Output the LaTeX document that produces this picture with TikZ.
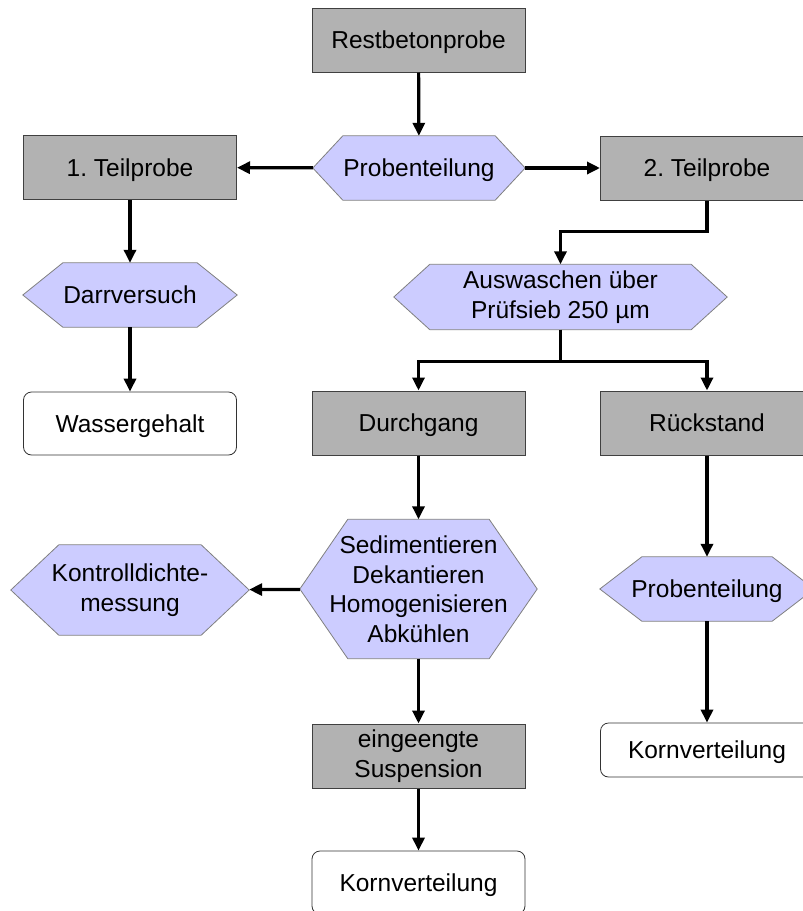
\documentclass[tikz,border=0pt]{standalone}
\usepackage{fontspec}
\setmainfont{Liberation Sans}
\usetikzlibrary{arrows.meta,backgrounds}

\definecolor{probengrau}{RGB}{178,178,178}
\definecolor{schrittblau}{RGB}{204,204,255}

\tikzset{
  probe/.style={rectangle, draw=black!75, fill=probengrau, line width=1pt,
    minimum width=213pt, minimum height=64pt, align=center, inner sep=0pt, text depth=0pt},
  ergebnis/.style={rectangle, rounded corners=8pt, draw=black!80, fill=white,
    line width=0.8pt, minimum width=213pt, minimum height=63pt, align=center, inner sep=0pt,
    text depth=0pt},
  schritt/.style={rectangle, minimum height=64pt, align=center, inner sep=0pt, text depth=0pt},
  mehrzeilig/.style={text depth=},
  sechsrand/.style={draw=black!50, fill=schrittblau, line width=0.8pt},
  pfeil/.style={line width=3.2pt, -{Triangle[length=13pt,width=12pt]}},
  linie/.style={line width=3.2pt},
}

% Sechseck hinter einen Knoten legen: #1 Knoten, #2 Breite der Spitze
\newcommand{\sechseck}[2]{%
  \begin{pgfonlayer}{background}
    \draw[sechsrand] (#1.west) -- ([xshift=#2]#1.north west) -- ([xshift=-#2]#1.north east)
      -- (#1.east) -- ([xshift=-#2]#1.south east) -- ([xshift=#2]#1.south west) -- cycle;
  \end{pgfonlayer}}

\begin{document}
\begin{tikzpicture}[x=1pt, y=-1pt, every node/.style={font=\fontsize{24.5}{29.5}\selectfont}]
    \path[use as bounding box, clip] (0,0) rectangle (803,911);

    % Probe und Teilung
    \node[probe] (rest) at (418.5,40) {Restbetonprobe};
    \node[schritt, minimum width=212pt] (teilung) at (419,168) {Probenteilung};
    \sechseck{teilung}{30pt}
    \node[probe] (teil1) at (130,167.5) {1.\ Teilprobe};
    \node[probe] (teil2) at (707,168) {2.\ Teilprobe};

    % linker Zweig
    \node[schritt, minimum width=214pt] (darr) at (130,295) {Darrversuch};
    \sechseck{darr}{40pt}
    \node[ergebnis] (wasser) at (130,423.5) {Wassergehalt};

    % rechter Zweig
    \node[schritt, mehrzeilig, minimum width=333pt, minimum height=65pt] (ausw) at (560.5,297)
        {Auswaschen über\\Prüfsieb 250 µm};
    \sechseck{ausw}{36pt}
    \node[probe] (durch) at (418.5,423) {Durchgang};
    \node[probe] (rueck) at (707,423) {Rückstand};

    \node[schritt, mehrzeilig, minimum width=237pt, minimum height=139pt] (sed) at (418.5,589)
        {Sedimentieren\\Dekantieren\\Homogenisieren\\Abkühlen};
    \sechseck{sed}{48pt}
    \node[schritt, mehrzeilig, minimum width=238pt, minimum height=90pt] (kontr) at (130,590)
        {Kontrolldichte-\\messung};
    \sechseck{kontr}{48pt}
    \node[probe, mehrzeilig] (eing) at (418.5,756) {eingeengte\\Suspension};
    \node[ergebnis] (korn2) at (418.5,882.5) {Kornverteilung};

    \node[schritt, minimum width=214pt] (teilung2) at (707,589) {Probenteilung};
    \sechseck{teilung2}{42pt}
    \node[ergebnis, minimum height=54pt] (korn1) at (707,750) {Kornverteilung};

    % Verbindungen
    \draw[pfeil] (rest) -- (teilung);
    \draw[pfeil] (teilung) -- (teil1);
    \draw[pfeil] (teilung) -- (teil2);
    \draw[pfeil] (teil1) -- (darr);
    \draw[pfeil] (darr) -- (wasser);
    \draw[pfeil] (teil2.south) -- ++(0,31) -| (ausw.north);
    \coordinate (gabel) at ([yshift=-32pt]ausw.south);
    \draw[linie] (ausw.south) -- (gabel);
    \draw[pfeil] (gabel) -| (durch.north);
    \draw[pfeil] (gabel) -| (rueck.north);
    \draw[pfeil] (durch) -- (sed);
    \draw[pfeil] (sed) -- (kontr);
    \draw[pfeil] (sed) -- (eing);
    \draw[pfeil] (eing) -- (korn2);
    \draw[pfeil] (rueck) -- (teilung2);
    \draw[pfeil] (teilung2) -- (korn1);
\end{tikzpicture}
\end{document}
